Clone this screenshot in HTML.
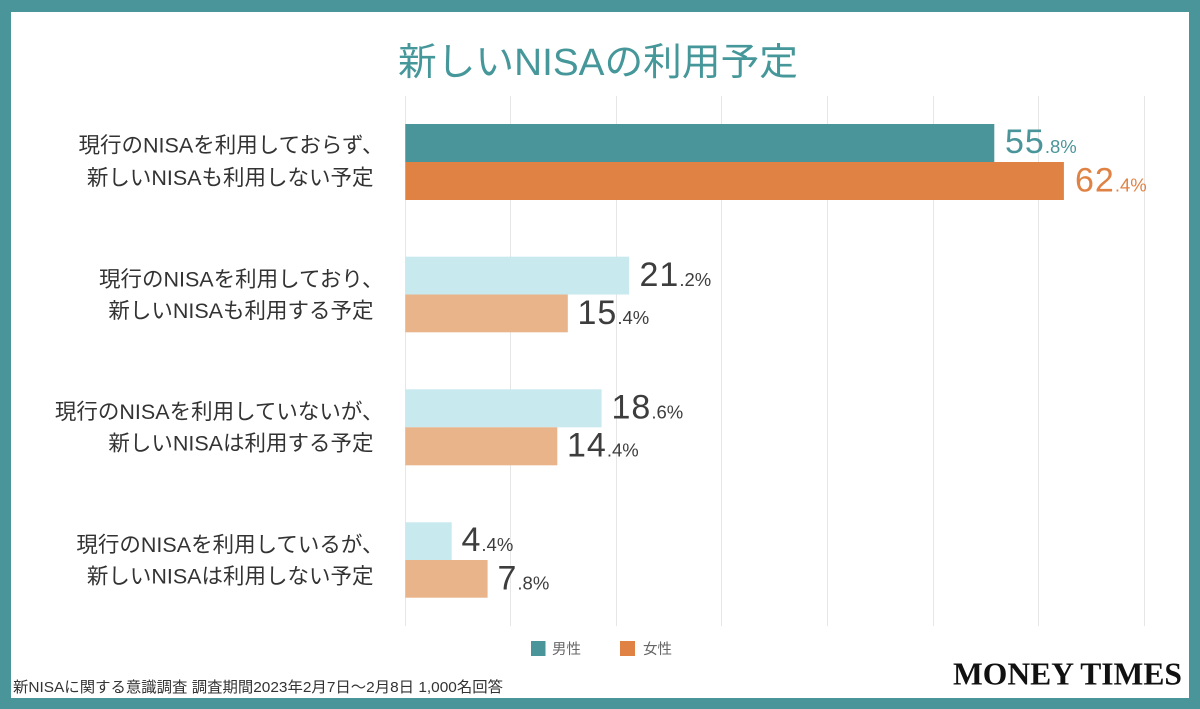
<!DOCTYPE html>
<html>
<head>
<meta charset="utf-8">
<style>
  html,body{margin:0;padding:0;background:#4a959a;}
  body{width:1200px;height:709px;overflow:hidden;}
  svg{display:block;}
  .jp{font-family:"Liberation Sans","Noto Sans CJK JP",sans-serif;}
</style>
</head>
<body>
<svg width="1200" height="709" viewBox="0 0 1200 709" xmlns="http://www.w3.org/2000/svg">
  <rect x="0" y="0" width="1200" height="709" fill="#4a959a"/>
  <rect x="11" y="12" width="1178" height="686" fill="#ffffff"/>

  <!-- title -->
  <text class="jp" x="398" y="75" font-size="38" fill="#45979a" textLength="400" lengthAdjust="spacingAndGlyphs">新しいNISAの利用予定</text>

  <!-- gridlines -->
  <g stroke="#e6e6e6" stroke-width="1">
    <line x1="405.5" y1="96" x2="405.5" y2="626"/>
    <line x1="510.5" y1="96" x2="510.5" y2="626"/>
    <line x1="616.5" y1="96" x2="616.5" y2="626"/>
    <line x1="721.5" y1="96" x2="721.5" y2="626"/>
    <line x1="827.5" y1="96" x2="827.5" y2="626"/>
    <line x1="933.5" y1="96" x2="933.5" y2="626"/>
    <line x1="1038.5" y1="96" x2="1038.5" y2="626"/>
    <line x1="1144.5" y1="96" x2="1144.5" y2="626"/>
  </g>

  <!-- bars -->
  <rect x="405.3" y="124" width="589" height="38" fill="#4a959a"/>
  <rect x="405.3" y="162" width="658.6" height="38" fill="#df8244"/>

  <rect x="405.3" y="256.7" width="223.8" height="37.8" fill="#c8eaee"/>
  <rect x="405.3" y="294.5" width="162.5" height="37.8" fill="#e9b489"/>

  <rect x="405.3" y="389.3" width="196.3" height="38" fill="#c8eaee"/>
  <rect x="405.3" y="427.3" width="152" height="38" fill="#e9b489"/>

  <rect x="405.3" y="522.3" width="46.4" height="37.7" fill="#c8eaee"/>
  <rect x="405.3" y="560" width="82.3" height="37.7" fill="#e9b489"/>

  <!-- value labels -->
  <g class="jp">
    <text x="1005" y="153" fill="#4a959a"><tspan font-size="34" letter-spacing="1">55</tspan><tspan font-size="18.5">.8%</tspan></text>
    <text x="1075" y="191.5" fill="#df8244"><tspan font-size="34" letter-spacing="1">62</tspan><tspan font-size="18.5">.4%</tspan></text>

    <text x="639.5" y="286" fill="#3d3d3d"><tspan font-size="34" letter-spacing="1">21</tspan><tspan font-size="18.5">.2%</tspan></text>
    <text x="577.5" y="324" fill="#3d3d3d"><tspan font-size="34" letter-spacing="1">15</tspan><tspan font-size="18.5">.4%</tspan></text>

    <text x="611.5" y="418.5" fill="#3d3d3d"><tspan font-size="34" letter-spacing="1">18</tspan><tspan font-size="18.5">.6%</tspan></text>
    <text x="567" y="456.5" fill="#3d3d3d"><tspan font-size="34" letter-spacing="1">14</tspan><tspan font-size="18.5">.4%</tspan></text>

    <text x="461.5" y="551" fill="#3d3d3d"><tspan font-size="34" letter-spacing="1">4</tspan><tspan font-size="18.5">.4%</tspan></text>
    <text x="497.5" y="589.5" fill="#3d3d3d"><tspan font-size="34" letter-spacing="1">7</tspan><tspan font-size="18.5">.8%</tspan></text>
  </g>

  <!-- category labels -->
  <g class="jp" font-size="21.5" fill="#333333" text-anchor="end">
    <text x="383.5" y="152.5">現行のNISAを利用しておらず、</text>
    <text x="373.5" y="185">新しいNISAも利用しない予定</text>

    <text x="383.5" y="286.5">現行のNISAを利用しており、</text>
    <text x="373.5" y="318">新しいNISAも利用する予定</text>

    <text x="383.5" y="419">現行のNISAを利用していないが、</text>
    <text x="373.5" y="450.5">新しいNISAは利用する予定</text>

    <text x="383.5" y="552">現行のNISAを利用しているが、</text>
    <text x="373.5" y="583.5">新しいNISAは利用しない予定</text>
  </g>

  <!-- legend -->
  <rect x="531" y="641" width="14.5" height="15" fill="#4a959a"/>
  <text class="jp" x="552" y="654" font-size="14.5" fill="#666666">男性</text>
  <rect x="620" y="641" width="15" height="15" fill="#df8244"/>
  <text class="jp" x="643" y="654" font-size="14.5" fill="#666666">女性</text>

  <!-- footer -->
  <text class="jp" x="13" y="692" font-size="15" fill="#333333" textLength="490" lengthAdjust="spacingAndGlyphs">新NISAに関する意識調査 調査期間2023年2月7日〜2月8日 1,000名回答</text>

  <!-- logo -->
  <text x="953" y="684.3" font-family="'Liberation Serif', serif" font-weight="bold" font-size="31.5" fill="#111111" textLength="229" lengthAdjust="spacingAndGlyphs">MONEY TIMES</text>
</svg>
</body>
</html>
